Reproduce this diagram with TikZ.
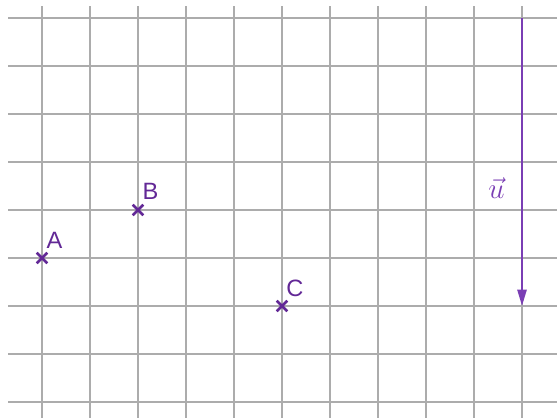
\documentclass[tikz,border=0pt]{standalone}
\usepackage{fontspec}
\setsansfont{Liberation Sans}
\usetikzlibrary{arrows.meta}

\definecolor{violeta}{RGB}{98,40,150}
\definecolor{violetaclaro}{RGB}{122,62,180}
\definecolor{rejilla}{RGB}{172,172,172}

\tikzset{
    linea/.style={rejilla, line width=0.8pt},
    cruz/.style={violeta, line width=1.5pt},
    etiqueta/.style={violeta, font=\sffamily\fontsize{14}{16}\selectfont, inner sep=0pt},
    vector/.style={violetaclaro, line width=1.3pt, -{Triangle[length=0.34cm, width=0.19cm]}}
}

\begin{document}
\begin{tikzpicture}
    \useasboundingbox (-0.875,-0.333) rectangle (10.729,8.375);

    % Cuadricula
    \foreach \x in {0,...,10}
        \draw[linea] (\x,-0.4) -- (\x,8.25);
    \foreach \y in {0,...,8}
        \draw[linea] (-0.708,\y) -- (10.8,\y);

    % Puntos
    \coordinate (A) at (0,3);
    \coordinate (B) at (2,4);
    \coordinate (C) at (5,2);

    \foreach \p in {A,B,C}
        \draw[cruz] (\p) ++(-0.11,-0.11) -- ++(0.22,0.22)
                    (\p) ++(-0.11,0.11) -- ++(0.22,-0.22);

    \node[etiqueta] (etiqA) at (0.26,3.37) {A};
    \node[etiqueta] (etiqB) at (2.26,4.38) {B};
    \node[etiqueta] (etiqC) at (5.27,2.36) {C};

    % Vector
    \coordinate (uini) at (10,8);
    \coordinate (ufin) at (10,2);
    \draw[vector] (uini) -- (ufin);

    \node[violetaclaro, font=\fontsize{18}{21}\selectfont] (etiqu) at (9.47,4.45) {$\vec{u}$};

\end{tikzpicture}
\end{document}
